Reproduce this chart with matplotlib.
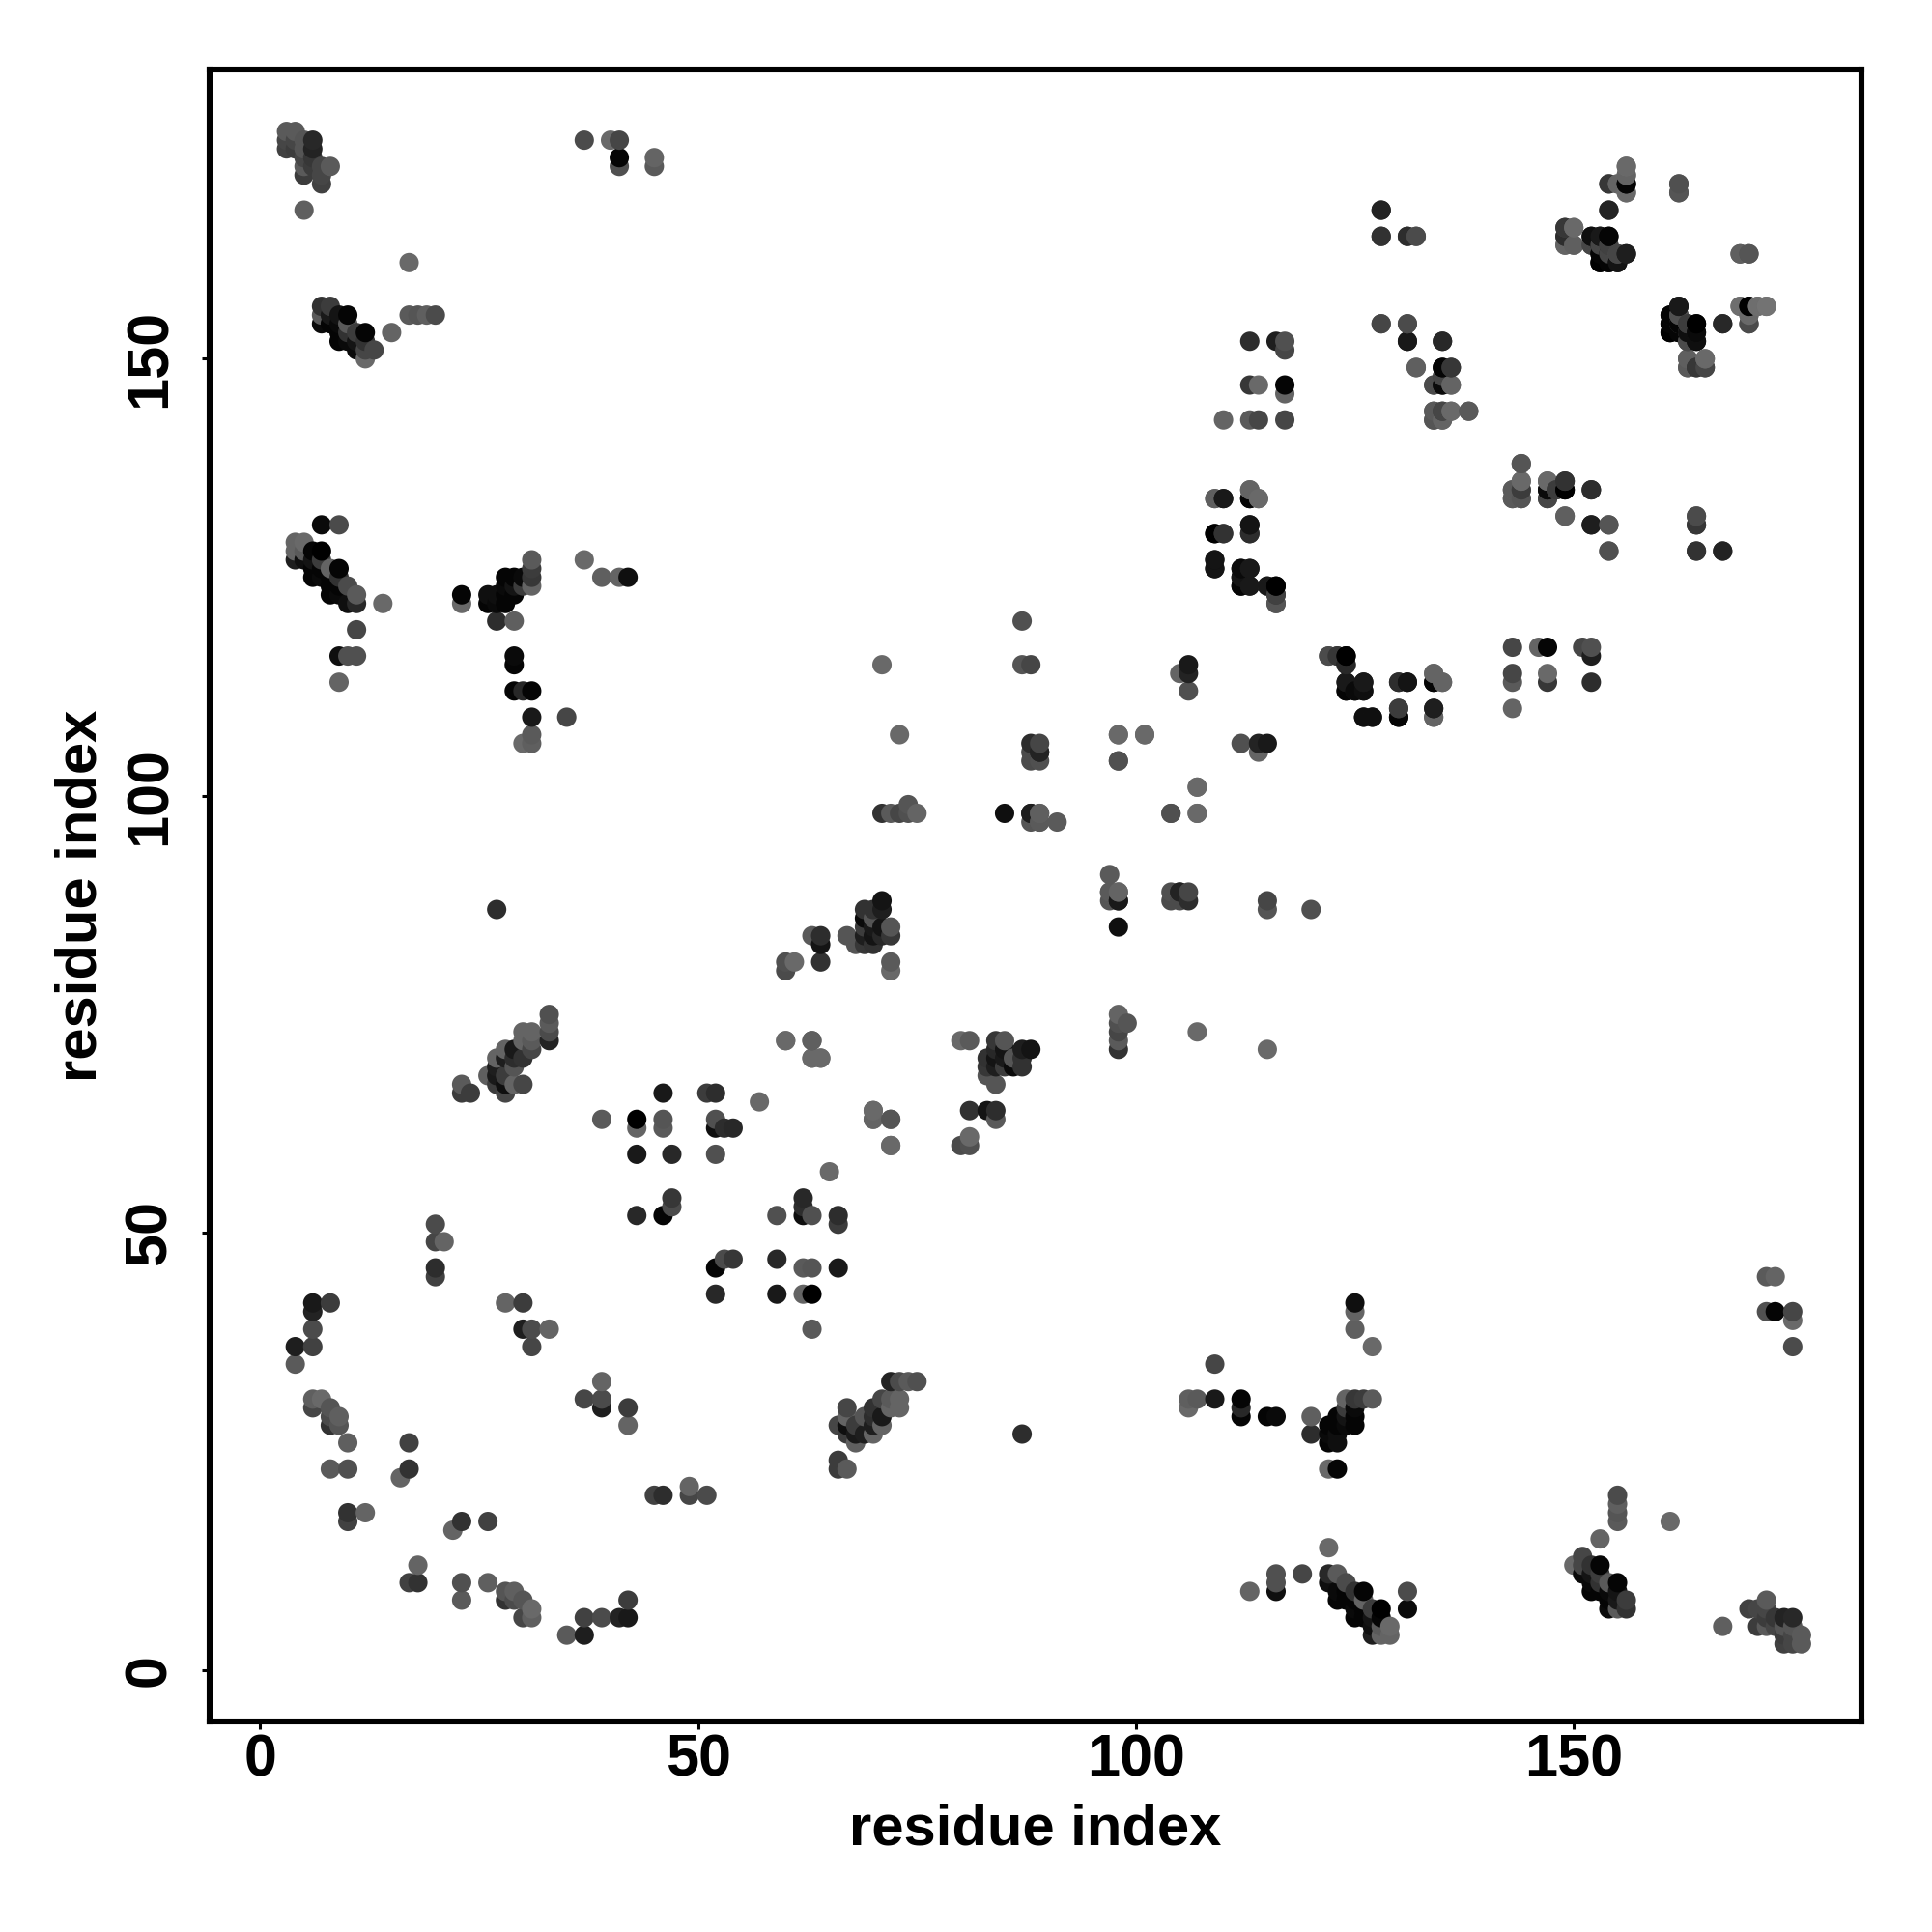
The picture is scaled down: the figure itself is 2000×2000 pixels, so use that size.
import numpy as np
import matplotlib
matplotlib.use("Agg")
import matplotlib.pyplot as plt

contacts = """
20 51 75;20 49 70;21 49 100;20 46 45;20 45 65;6 42 25;6 41 35;8 42 60;6 39 75;6 37 65;4 37 30;4 35 90
28 42 100;30 42 60;30 39 30;31 39 75;33 39 100;31 37 70;6 31 95;7 31 105;6 30 70;8 30 85;8 29 75;9 29 95;8 28 50;9 28 85
10 26 95;17 26 65;8 23 90;10 23 80;17 23 50;16 22 100;10 18 50;12 18 100;10 17 65
60 72 105;63 72 85;63 70 100;64 70 105;51 66 60;52 66 45;57 65 105;52 63 80;52 62 15;53 62 45;54 62 40;52 59 80
70 64 105;70 63 105;72 63 95;72 60 105;46 52 5;47 53 75;47 54 55;47 59 40;46 62 90;46 63 85;46 66 25
43 52 40;43 59 25;43 62 100;43 63 0;39 63 90
72 80 105;72 81 90;72 84 55;72 85 85;71 87 30;71 88 20;70 83 50;70 86 85;70 87 50;69 83 55;69 84 30;69 85 60;69 86 10;69 87 50;68 83 85;67 84 85
70 84 20;70 85 25;71 84 40;71 85 20;64 81 50;64 83 20;64 84 45;63 84 90;61 81 105;60 80 75;60 81 80
75 98 100;74 99 85;74 98 80;73 98 70;72 98 90;71 98 50;33 72 35;33 73 75;33 74 90;33 75 80
31 71 70;31 72 90;31 73 100;30 73 100;30 72 100;30 70 50;30 67 70;29 67 100;29 71 25;29 70 45;29 69 85;28 71 100;28 70 30;28 68 60;28 67 15;28 66 70
27 70 100;27 69 30;27 68 25;27 67 60;26 68 95;23 67 90;23 66 60;24 66 60;27 87 45
88 104 75;88 105 75;88 106 45;89 104 80;89 105 35;89 106 70;98 107 105;101 107 105;98 104 80;106 112 80;105 114 100;106 114 35;106 115 25;107 101 105
85 98 15;88 98 25;89 98 100;88 97 85;89 97 90;91 97 90;104 98 80;107 98 105;87 115 85;88 115 70;87 120 80;71 115 105;73 107 105
97 89 90;98 89 95;98 88 30;105 89 35
42 125 15;41 125 100;39 125 95;37 127 105;35 109 70;31 106 95;31 107 90;30 106 105;31 109 25;31 112 5;30 112 40;29 112 5;29 115 5;29 116 10;29 120 95;27 120 45
31 124 100;31 125 55;31 126 60;31 127 90;30 124 60;30 125 10;29 123 5;29 124 20;29 125 5;28 122 5;28 123 5;28 124 10;28 125 5;27 122 10;27 123 15;26 122 5;26 123 15;23 122 105;23 123 5
14 122 105;11 116 80;11 119 70;10 116 80;9 116 15;9 113 100;11 122 40;11 123 90;10 122 15;10 124 75;9 125 50;9 126 5;9 123 10;9 124 5;8 123 5;8 124 5;8 125 5;8 126 100
7 125 10;7 126 5;7 127 60;7 128 0;6 125 5;6 126 5;6 127 20;6 128 5;5 127 15;5 129 105;5 128 90;4 127 30;4 128 100;4 129 100;9 131 75;7 131 10
45 172 90;45 173 100;41 172 80;41 173 5;41 175 70;40 175 105;37 175 75;20 155 75;19 155 95;18 155 85;17 155 90;17 161 105;15 153 100
13 151 70;12 150 105;12 151 70;12 152 50;12 153 5;11 151 10;11 152 20;11 153 60;10 152 10;10 153 50;10 154 90;10 155 5;9 152 5;9 153 5;9 154 10;9 155 20;8 154 5;8 155 25;8 156 60;7 154 10;7 155 90;7 156 50
8 172 90;7 170 65;7 171 70;7 172 70;6 173 55;5 167 95;5 171 60;5 172 90;6 172 60;6 174 35;6 175 40;5 173 70;5 174 85;5 175 85;4 174 60;4 175 70;4 176 90;3 174 65;3 175 70;3 176 90
109 134 100;110 134 30;113 135 100;113 134 5;114 134 100;109 130 5;110 130 60;113 131 20;113 130 45;109 127 15;109 126 15;112 126 15;113 126 25;112 124 5;113 124 25;115 124 40;116 124 0;116 123 55;116 122 75;112 125 10
122 116 85;123 116 65;124 116 0;124 115 25;124 113 25;126 113 25;124 112 5;125 112 20;126 112 10;130 113 45;131 113 20;134 114 105;134 113 5;135 113 100
126 109 20;127 109 20;130 110 50;130 109 0;134 110 25;134 109 95;117 143 70;117 146 100;117 147 5;117 151 70;117 152 80;116 152 30;114 143 70;113 143 90;114 147 105;113 147 55;113 152 45;110 143 100
128 167 35;128 164 50;131 164 55;132 164 75;154 167 40;154 170 75;155 170 105;156 170 0;156 172 115;156 171 110;156 169 110;162 170 85;162 169 95
149 165 70;150 165 105;149 164 55;149 163 90;150 163 95;152 164 15;153 164 10;154 164 0;152 163 75;153 163 15;154 163 60;153 162 5;154 162 5;155 162 80;156 162 25;153 161 0;154 161 5;155 161 5
169 162 85;170 162 80;162 156 30;161 155 20;162 155 70;161 154 5;162 154 70;163 154 65;164 154 5;161 153 0;162 153 5;163 153 70;164 153 25;163 152 70;164 152 15;167 154 35
169 156 105;170 156 5;171 156 100;172 156 105;170 155 100;170 154 55;163 150 95;165 150 105;163 149 100;164 149 45;165 149 55
128 154 80;131 154 85;131 152 30;135 152 45;132 149 95;135 149 0;136 149 50;134 147 70;135 148 60;135 147 10;136 147 105;134 144 85;135 144 60;136 144 105;138 144 85;134 143 90;135 143 90
144 138 90;144 136 105;144 135 70;143 135 100;143 134 85;144 134 90;147 136 100;149 136 55;147 135 10;148 135 70;149 135 5;147 134 75;149 132 95;152 135 40;152 131 25;154 131 75;154 128 70;164 132 75;164 131 45;164 128 50;167 128 35
"""

records = np.array([[int(v) for v in item.split()]
                    for line in contacts.strip().splitlines()
                    for item in line.split(";")])
res_a = records[:, 0]
res_b = records[:, 1]
grey_level = records[:, 2]

x_ticks = [0, 50, 100, 150]
y_ticks = [0, 50, 100, 150]
axis_label = "residue index"

plt.rcParams["font.family"] = ["Liberation Sans", "DejaVu Sans"]
fig = plt.figure(figsize=(10, 10), dpi=200)
ax = fig.add_axes([217 / 2000, 1 - 1782 / 2000, (1927 - 217) / 2000, (1782 - 72) / 2000])

x = np.concatenate([res_a, res_b])
y = np.concatenate([res_b, res_a])
g = np.concatenate([grey_level, grey_level]) / 255
order = np.lexsort((y, x))
colors = [(v, v, v) for v in g[order]]
ax.scatter(x[order], y[order], s=52, c=colors, linewidths=0, zorder=3)

ax.set_xlim(-5.78, 182.85)
ax.set_ylim(-5.87, 183.08)
ax.set_xticks(x_ticks)
ax.set_yticks(y_ticks)
ax.tick_params(axis="x", length=3, width=1.1, labelsize=22, pad=1.5)
ax.tick_params(axis="y", length=3, width=1.1, labelsize=22, pad=8.8)
for t in ax.get_xticklabels():
    t.set_fontweight("bold")
for t in ax.get_yticklabels():
    t.set_fontweight("bold")
    t.set_rotation(90)
    t.set_va("center")
for s in ax.spines.values():
    s.set_linewidth(2.2)
ax.set_xlabel(axis_label, fontsize=21.5, fontweight="bold", labelpad=5.5)
ax.set_ylabel(axis_label, fontsize=21.5, fontweight="bold", labelpad=5.5)
fig.savefig("out.png", dpi=200, facecolor="white")
